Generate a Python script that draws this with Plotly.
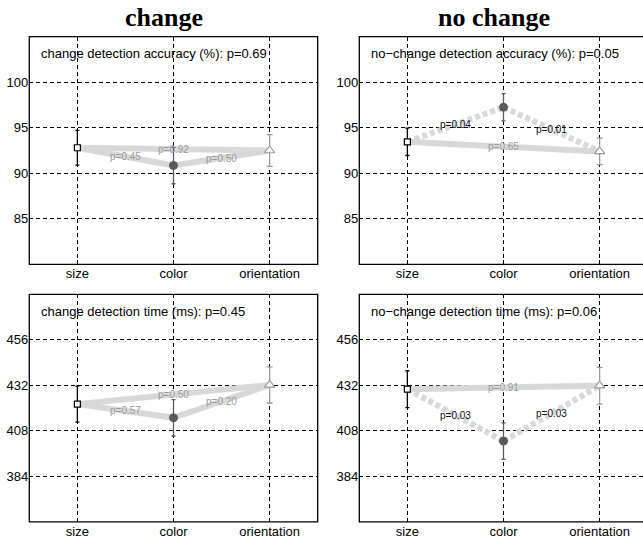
import plotly.graph_objects as go

# ---------------- data ----------------
categories = ["size", "color", "orientation"]

acc_change = [92.8, 90.85, 92.5]
acc_change_err = [1.9, 2.0, 1.75]
acc_nochange = [93.45, 97.25, 92.4]
acc_nochange_err = [1.5, 1.5, 1.45]
time_change = [422.1, 414.9, 432.2]
time_change_err = [9.5, 9.6, 9.5]
time_nochange = [430.0, 402.6, 431.8]
time_nochange_err = [9.7, 9.6, 9.7]

pairs = [(0, 1), (1, 2), (0, 2)]
p_acc_change = [0.45, 0.50, 0.92]
p_acc_nochange = [0.04, 0.01, 0.65]
p_time_change = [0.57, 0.20, 0.50]
p_time_nochange = [0.03, 0.03, 0.91]

panel_names = ["change detection accuracy (%)", "no\u2212change detection accuracy (%)",
               "change detection time (ms)", "no\u2212change detection time (ms)"]
panel_p = [0.69, 0.05, 0.45, 0.06]
column_titles = ["change", "no change"]

acc_ticks = [85, 90, 95, 100]
acc_range = [80, 105]
time_ticks = [384, 408, 432, 456]
time_range = [360, 480]

# ---------------- layout geometry ----------------
W, H = 643, 540
left_px = [29.3, 359.3]
top_px = [36.7, 294.3]
panel_w, panel_h = 288.4, 227.6

FONT = "Liberation Sans, Arial, Helvetica, sans-serif"
BAND = "#d8d8d8"
marker_styles = [
    dict(symbol="square", size=6, color="white", line=dict(color="black", width=1.2)),
    dict(symbol="circle", size=8, color="#5a5a5a", line=dict(color="#5a5a5a", width=1)),
    dict(symbol="triangle-up", size=9, color="white", line=dict(color="#9a9a9a", width=1.2)),
]
err_colors = ["black", "#5a5a5a", "#9a9a9a"]
cap_widths = [2, 2, 3]

panels = [
    (acc_change, acc_change_err, p_acc_change, acc_ticks, acc_range),
    (acc_nochange, acc_nochange_err, p_acc_nochange, acc_ticks, acc_range),
    (time_change, time_change_err, p_time_change, time_ticks, time_range),
    (time_nochange, time_nochange_err, p_time_nochange, time_ticks, time_range),
]

fig = go.Figure()
annotations = []
shapes = []
xs = list(range(1, len(categories) + 1))

for k, (vals, errs, pvals, ticks, yr) in enumerate(panels):
    row, col = divmod(k, 2)
    suffix = "" if k == 0 else str(k + 1)
    xa, ya = "x" + suffix, "y" + suffix

    # connecting bands
    for (i, j), p in zip(pairs, pvals):
        sig = p < 0.05
        fig.add_trace(go.Scatter(
            x=[xs[i], xs[j]], y=[vals[i], vals[j]], mode="lines",
            line=dict(color=BAND, width=6, dash="5px,3px" if sig else "solid"),
            xaxis=xa, yaxis=ya, showlegend=False, hoverinfo="skip"))
        annotations.append(dict(
            x=(xs[i] + xs[j]) / 2, y=(vals[i] + vals[j]) / 2, xref=xa, yref=ya,
            text=f"p={p:.2f}", showarrow=False,
            font=dict(family=FONT, size=10, color="#111111" if sig else "#9a9a9a"),
            xanchor="center", yanchor="middle"))

    # markers with error bars
    for m in range(len(categories)):
        fig.add_trace(go.Scatter(
            x=[xs[m]], y=[vals[m]], mode="markers", marker=marker_styles[m],
            error_y=dict(type="data", array=[errs[m]], color=err_colors[m],
                         thickness=1.3, width=cap_widths[m]),
            xaxis=xa, yaxis=ya, showlegend=False, hoverinfo="skip"))

    # axes
    lx = left_px[col]
    x0 = lx / W
    x1 = min(1.0, (lx + panel_w) / W)
    xr1 = 0.5 + len(categories) * (x1 * W - lx) / panel_w
    ty = top_px[row]
    y1 = 1 - ty / H
    y0 = 1 - (ty + panel_h) / H

    axis_common = dict(showgrid=True, gridcolor="black", gridwidth=1, griddash="4px,3px",
                       zeroline=False, showline=False, ticks="inside", ticklen=4,
                       tickcolor="black", tickfont=dict(family=FONT, size=13, color="black"))
    fig.layout["xaxis" + suffix] = dict(
        domain=[x0, x1], range=[0.5, xr1], anchor=ya, tickmode="array",
        tickvals=xs, ticktext=categories, **axis_common)
    fig.layout["yaxis" + suffix] = dict(
        domain=[y0, y1], range=yr, anchor=xa, tickmode="array",
        tickvals=ticks, ticktext=[str(t) for t in ticks], **axis_common)

    # frame
    shapes.append(dict(type="rect", xref="paper", yref="paper",
                       x0=lx / W, x1=(lx + panel_w) / W, y0=y0, y1=y1,
                       line=dict(color="black", width=1.3), fillcolor="rgba(0,0,0,0)",
                       layer="above"))

    # panel label
    annotations.append(dict(
        x=(lx + 10) / W, y=1 - (ty + 17) / H, xref="paper", yref="paper",
        text=f"{panel_names[k]}: p={panel_p[k]:.2f}", showarrow=False,
        font=dict(family=FONT, size=13, color="black"), xanchor="left", yanchor="middle"))

# column titles
for c, t in enumerate(column_titles):
    annotations.append(dict(
        x=(left_px[c] + panel_w / 2 - 10) / W, y=1 - 18 / H, xref="paper", yref="paper",
        text=f"<b>{t}</b>", showarrow=False,
        font=dict(family="Liberation Serif, Times New Roman, serif", size=26, color="black"),
        xanchor="center", yanchor="middle"))

fig.update_layout(
    width=W, height=H, autosize=False,
    margin=dict(l=0, r=0, t=0, b=0),
    paper_bgcolor="white", plot_bgcolor="white",
    annotations=annotations, shapes=shapes,
)

fig.write_html("out.html")
